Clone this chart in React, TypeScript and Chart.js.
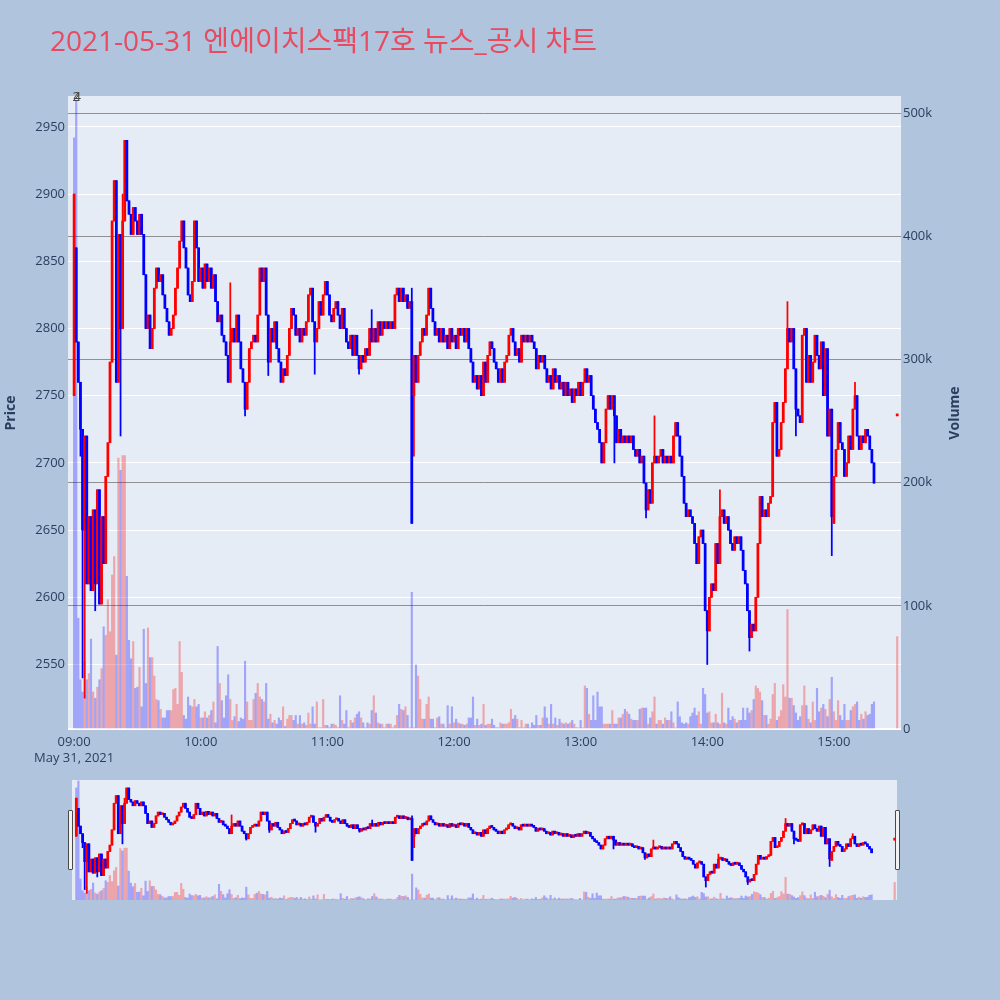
import React, { useEffect, useRef } from 'react';
import { Chart, registerables } from 'chart.js';
Chart.register(...registerables);

const titleText = '2021-05-31 엔에이치스팩17호 뉴스_공시 차트';
const hourTickMinutes = [0, 60, 120, 180, 240, 300, 360];
const hourLabels = ['09:00', '10:00', '11:00', '12:00', '13:00', '14:00', '15:00'];
const dateLabel = 'May 31, 2021';
const priceTicks = [2550, 2600, 2650, 2700, 2750, 2800, 2850, 2900, 2950];
const volumeTicks = [0, 100000, 200000, 300000, 400000, 500000];
const volumeTickLabels = ['0', '100k', '200k', '300k', '400k', '500k'];
const priceAxisTitle = 'Price';
const volumeAxisTitle = 'Volume';
const newsMarks: [number, string][] = [[1, '2'], [1.5, '4']];

// minute index 0 = 09:00
const firstOpen = 2750;
const closes = [
  2900, 2790, 2760, 2725, 2650, 2720, 2610, 2660, 2605, 2665,
  2610, 2680, 2595, 2660, 2625, 2690, 2715, 2775, 2880, 2910,
  2760, 2870, 2800, 2880, 2940, 2895, 2885, 2870, 2890, 2880,
  2870, 2885, 2870, 2840, 2800, 2810, 2785, 2800, 2830, 2845,
  2835, 2840, 2825, 2815, 2805, 2795, 2800, 2810, 2830, 2845,
  2865, 2880, 2860, 2845, 2825, 2820, 2835, 2880, 2860, 2835,
  2845, 2830, 2848, 2835, 2845, 2830, 2840, 2820, 2805, 2810,
  2795, 2790, 2780, 2760, 2790, 2800, 2790, 2810, 2790, 2770,
  2760, 2740, 2760, 2785, 2790, 2795, 2790, 2810, 2845, 2835,
  2845, 2810, 2775, 2800, 2790, 2805, 2785, 2775, 2760, 2770,
  2765, 2780, 2800, 2815, 2810, 2795, 2800, 2790, 2800, 2795,
  2805, 2825, 2830, 2805, 2790, 2800, 2820, 2810, 2825, 2835,
  2825, 2810, 2805, 2815, 2820, 2810, 2800, 2815, 2800, 2790,
  2785, 2795, 2780, 2795, 2780, 2770, 2780, 2775, 2785, 2780,
  2800, 2790, 2800, 2790, 2805, 2795, 2805, 2800, 2805, 2800,
  2805, 2800, 2825, 2830, 2820, 2830, 2820, 2825, 2815, 2820,
  2655, 2780, 2760, 2780, 2790, 2800, 2795, 2810, 2830, 2815,
  2805, 2795, 2800, 2790, 2800, 2790, 2795, 2785, 2800, 2790,
  2795, 2785, 2800, 2795, 2800, 2790, 2800, 2785, 2775, 2760,
  2765, 2755, 2765, 2750, 2775, 2760, 2780, 2790, 2785, 2775,
  2770, 2760, 2770, 2760, 2775, 2780, 2795, 2800, 2790, 2780,
  2785, 2775, 2795, 2790, 2795, 2790, 2795, 2790, 2785, 2770,
  2780, 2775, 2780, 2770, 2760, 2765, 2755, 2770, 2760, 2765,
  2755, 2760, 2750, 2760, 2750, 2755, 2745, 2755, 2750, 2760,
  2750, 2760, 2770, 2760, 2765, 2750, 2740, 2730, 2725, 2715,
  2700, 2715, 2740, 2750, 2740, 2750, 2735, 2715, 2725, 2715,
  2720, 2715, 2720, 2715, 2720, 2710, 2705, 2710, 2700, 2705,
  2685, 2665, 2680, 2670, 2700, 2705, 2700, 2705, 2710, 2700,
  2705, 2700, 2705, 2700, 2720, 2730, 2720, 2705, 2690, 2670,
  2660, 2665, 2660, 2655, 2640, 2625, 2645, 2650, 2640, 2590,
  2575, 2600, 2610, 2605, 2640, 2625, 2660, 2665, 2655, 2660,
  2650, 2640, 2635, 2645, 2640, 2645, 2635, 2620, 2610, 2590,
  2570, 2580, 2575, 2600, 2640, 2675, 2660, 2665, 2660, 2670,
  2675, 2730, 2745, 2705, 2710, 2730, 2745, 2770, 2800, 2790,
  2800, 2770, 2740, 2735, 2730, 2795, 2800, 2760, 2780, 2760,
  2775, 2795, 2780, 2770, 2790, 2750, 2785, 2720, 2740, 2660,
  2690, 2710, 2730, 2715, 2710, 2690, 2700, 2720, 2710, 2740,
  2750, 2720, 2710, 2720, 2715, 2725, 2720, 2710, 2700, 2685,
];
const openOverrides: [number, number][] = [[1, 2860], [161, 2750], [360, 2655]];
const wickLows: [number, number][] = [
  [3, 2705], [4, 2540], [5, 2525], [10, 2590], [22, 2720], [81, 2735], [92, 2765],
  [114, 2766], [135, 2766], [161, 2705], [256, 2700], [271, 2659], [300, 2550],
  [320, 2560], [342, 2720], [359, 2631],
];
const wickHighs: [number, number][] = [
  [23, 2900], [74, 2834], [141, 2814], [160, 2830], [275, 2735], [306, 2680],
  [338, 2820], [370, 2760],
];
// volume in thousands of shares
const volumesK = [
  480, 510, 90, 40, 30, 55, 40, 45, 73, 30, 25, 34, 40, 49, 83, 76, 105, 79, 125, 140, 60, 220, 210, 222, 222, 124,
  72, 57, 71, 33, 34, 50, 18, 81, 37, 82,
  58, 58, 43, 24, 23, 16, 9, 9, 15, 15,
  15, 32, 33, 20, 71, 46, 11, 8, 26, 19,
  18, 24, 18, 20, 9, 9, 14, 9, 11, 15,
  22, 5, 67, 37, 23, 9, 27, 44, 24, 7,
  10, 20, 6, 9, 8, 55, 22, 7, 7, 24,
  29, 37, 26, 24, 22, 37, 8, 12, 5, 7,
  4, 9, 7, 18, 2, 8, 11, 11, 7, 11,
  4, 11, 4, 5, 3, 13, 4, 18, 4, 22,
  1, 1, 24, 3, 3, 1, 4, 4, 3, 1,
  27, 7, 4, 15, 1, 7, 5, 9, 12, 14,
  9, 5, 1, 5, 4, 15, 27, 13, 5, 4,
  4, 1, 4, 4, 4, 1, 3, 11, 20, 16,
  15, 18, 11, 1, 111,
  1, 52, 43, 24, 8, 8, 20, 26, 8, 8, 1, 9, 10, 4, 4, 1, 19, 4, 18, 5, 8, 5, 4, 4, 3, 4, 9, 9,
  26, 3, 8, 3, 4, 20, 3, 4, 4, 8,
  3, 1, 1, 5, 4, 4, 4, 5, 16, 8,
  11, 8, 1, 7, 1, 4, 4, 1, 5, 3,
  11, 3, 3, 9, 18, 9, 4, 20, 4, 9,
  3, 8, 5, 4, 5, 4, 5, 7, 4, 1,
  1, 7, 1, 35, 33, 12, 7, 27, 7, 30,
  18, 18, 4, 4, 4, 4, 15, 4, 4, 9,
  9, 12, 16, 14, 12, 8, 7, 7, 7, 16,
  17, 17, 17, 4, 9, 14, 26, 4, 7, 7,
  4, 9, 7, 7, 14, 5, 1, 22, 10, 5,
  4, 5, 4, 10, 13, 17, 11, 14, 4, 33,
  28, 13, 14, 5, 5, 12, 5, 4, 29, 5,
  4, 17, 7, 10, 8, 5, 7, 7, 17, 7,
  17, 13, 15, 24, 35, 33, 30, 23, 11, 11,
  4, 8, 28, 37, 7, 10, 15, 36, 26, 97,
  25, 25, 19, 13, 7, 10, 19, 35, 19, 8,
  5, 22, 7, 33, 14, 17, 20, 16, 10, 24,
  42, 14, 7, 23, 11, 7, 20, 7, 7, 15,
  18, 20, 22, 7, 12, 8, 14, 11, 12, 20, 22,
];
const auctionMinute = 390;
const auctionPrice = 2735;
const auctionVolumeK = 75;

const FONT = '"Open Sans", "Noto Sans CJK KR", sans-serif';
const UP = '#ff0000';
const DOWN = '#0000ff';
const UP_VOL = 'rgba(255,0,0,0.3)';
const DOWN_VOL = 'rgba(0,0,255,0.3)';

type Row = { x: number; o: number; h: number; l: number; c: number; v: number; volUp: boolean };

function buildRows(): Row[] {
  const rows: Row[] = closes.map((c, i) => {
    const o = i === 0 ? firstOpen : closes[i - 1];
    return {
      x: i, o, c, h: Math.max(o, c), l: Math.min(o, c),
      v: (volumesK[i] ?? 0) * 1000,
      volUp: i > 0 && c >= closes[i - 1],
    };
  });
  openOverrides.forEach(([i, o]) => {
    rows[i].o = o;
    rows[i].h = Math.max(o, rows[i].c);
    rows[i].l = Math.min(o, rows[i].c);
  });
  wickLows.forEach(([i, l]) => { rows[i].l = Math.min(rows[i].l, l); });
  wickHighs.forEach(([i, h]) => { rows[i].h = Math.max(rows[i].h, h); });
  rows.push({
    x: auctionMinute, o: auctionPrice, c: auctionPrice, h: auctionPrice, l: auctionPrice,
    v: auctionVolumeK * 1000, volUp: auctionPrice >= closes[closes.length - 1],
  });
  return rows;
}

function makeDatasets(rows: Row[]) {
  const up = rows.map((r) => r.c >= r.o);
  return [
    {
      type: 'bar' as const,
      yAxisID: 'yv',
      data: rows.map((r) => ({ x: r.x, y: r.v })),
      backgroundColor: rows.map((r) => (r.volUp ? UP_VOL : DOWN_VOL)),
      barThickness: 1.5,
      grouped: false,
      order: 3,
    },
    {
      type: 'bar' as const,
      yAxisID: 'y',
      data: rows.map((r) => ({ x: r.x, y: [r.l, r.h] })),
      backgroundColor: up.map((u) => (u ? UP : DOWN)),
      barThickness: 1.1,
      grouped: false,
      order: 2,
    },
    {
      type: 'bar' as const,
      yAxisID: 'y',
      data: rows.map((r) => ({ x: r.x, y: [r.o, r.c] })),
      backgroundColor: up.map((u) => (u ? UP : DOWN)),
      barThickness: 2.1,
      minBarLength: 2,
      grouped: false,
      order: 1,
    },
  ];
}

const bgPlugin = {
  id: 'plotBg',
  beforeDraw(chart: any) {
    const { ctx, chartArea } = chart;
    ctx.save();
    ctx.fillStyle = '#e5ecf6';
    ctx.fillRect(chartArea.left, chartArea.top, chartArea.right - chartArea.left, chartArea.bottom - chartArea.top);
    ctx.restore();
  },
};

const textPlugin = {
  id: 'texts',
  afterDraw(chart: any) {
    const { ctx } = chart;
    ctx.save();
    ctx.fillStyle = '#2a3f5f';
    ctx.font = `bold 14px ${FONT}`;
    ctx.textAlign = 'center';
    ctx.textBaseline = 'middle';
    ctx.save();
    ctx.translate(11, 413);
    ctx.rotate(-Math.PI / 2);
    ctx.fillText(priceAxisTitle, 0, 0);
    ctx.restore();
    ctx.save();
    ctx.translate(955, 413);
    ctx.rotate(-Math.PI / 2);
    ctx.fillText(volumeAxisTitle, 0, 0);
    ctx.restore();
    ctx.font = `13px ${FONT}`;
    ctx.fillStyle = '#444444';
    const xs = chart.scales.x;
    newsMarks.forEach(([m, t]) => {
      ctx.fillText(t, xs.getPixelForValue(m), 97);
    });
    ctx.restore();
  },
};

export default function App() {
  const mainRef = useRef<HTMLCanvasElement>(null);
  const sliderRef = useRef<HTMLCanvasElement>(null);

  useEffect(() => {
    const rows = buildRows();
    const tickFont = { family: FONT, size: 13, lineHeight: 1.25 };
    const main = new Chart(mainRef.current as HTMLCanvasElement, {
      type: 'bar',
      data: { datasets: makeDatasets(rows) as any },
      options: {
        animation: false,
        responsive: false,
        devicePixelRatio: 1,
        events: [],
        layout: { padding: { top: 96, bottom: 231, left: 0, right: 0 } },
        plugins: { legend: { display: false }, tooltip: { enabled: false } },
        scales: {
          x: {
            type: 'linear',
            min: -2.9,
            max: 391.8,
            offset: false,
            grid: { display: false, drawTicks: false },
            border: { display: false },
            afterBuildTicks: (s: any) => { s.ticks = hourTickMinutes.map((v) => ({ value: v })); },
            ticks: {
              autoSkip: false,
              maxRotation: 0,
              padding: 5,
              color: '#2a3f5f',
              font: tickFont,
              callback: (v: any) => {
                const idx = hourTickMinutes.indexOf(Number(v));
                const lab = hourLabels[idx] ?? '';
                return idx === 0 ? [lab, dateLabel] : lab;
              },
            },
            afterFit: (s: any) => { s.height = 40; },
          },
          y: {
            type: 'linear',
            position: 'left',
            min: 2502,
            max: 2973,
            grid: { color: '#ffffff', lineWidth: 1, drawTicks: false },
            border: { display: false },
            afterBuildTicks: (s: any) => { s.ticks = priceTicks.map((v) => ({ value: v })); },
            ticks: {
              autoSkip: false,
              padding: 3,
              color: '#2a3f5f',
              font: tickFont,
              callback: (v: any) => String(v),
            },
            afterFit: (s: any) => { s.width = 68; },
          },
          yv: {
            type: 'linear',
            position: 'right',
            min: 0,
            max: 514000,
            grid: {
              color: (c: any) => (c.tick && c.tick.value === 0 ? '#ffffff' : 'rgba(128,128,128,0.85)'),
              lineWidth: (c: any) => (c.tick && c.tick.value === 0 ? 2 : 1),
              drawTicks: false,
            },
            border: { display: false },
            afterBuildTicks: (s: any) => { s.ticks = volumeTicks.map((v) => ({ value: v })); },
            ticks: {
              autoSkip: false,
              padding: 2,
              color: '#2a3f5f',
              font: tickFont,
              callback: (v: any) => volumeTickLabels[volumeTicks.indexOf(Number(v))] ?? '',
            },
            afterFit: (s: any) => { s.width = 99; },
          },
        },
      } as any,
      plugins: [bgPlugin, textPlugin],
    });

    const slider = new Chart(sliderRef.current as HTMLCanvasElement, {
      type: 'bar',
      data: { datasets: makeDatasets(rows) as any },
      options: {
        animation: false,
        responsive: false,
        devicePixelRatio: 1,
        events: [],
        layout: { padding: 0 },
        plugins: { legend: { display: false }, tooltip: { enabled: false } },
        scales: {
          x: { type: 'linear', display: false, min: -2.05, max: 391.1, offset: false },
          y: { type: 'linear', display: false, min: 2499, max: 2971.5 },
          yv: { type: 'linear', display: false, min: 0, max: 514000 },
        },
      } as any,
      plugins: [bgPlugin],
    });

    return () => {
      main.destroy();
      slider.destroy();
    };
  }, []);

  const handle = (left: number): React.CSSProperties => ({
    position: 'absolute',
    left,
    top: 810,
    width: 3,
    height: 58,
    background: '#f2f2f2',
    border: '1px solid #4a4a4a',
    borderRadius: 1,
  });

  return (
    <div style={{ position: 'absolute', left: 0, top: 0, width: 1000, height: 1000, background: '#b0c4de', overflow: 'hidden' }}>
      <canvas ref={mainRef} width={1000} height={1000} style={{ position: 'absolute', left: 0, top: 0 }} />
      <canvas ref={sliderRef} width={825} height={120} style={{ position: 'absolute', left: 72, top: 780 }} />
      <div style={handle(68)} />
      <div style={handle(895)} />
      <div
        style={{
          position: 'absolute',
          left: 50,
          top: 21,
          fontFamily: FONT,
          fontSize: 28,
          lineHeight: '38px',
          color: '#e84a5f',
          whiteSpace: 'nowrap',
        }}
      >
        {titleText}
      </div>
    </div>
  );
}
